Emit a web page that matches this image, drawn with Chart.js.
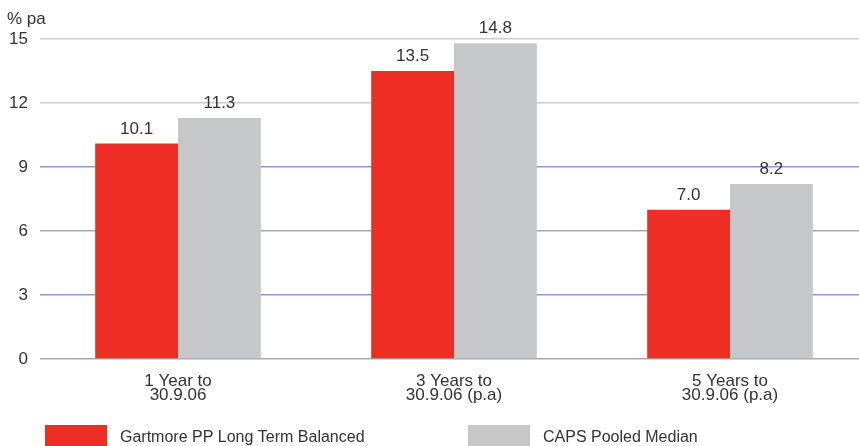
<!DOCTYPE html>
<html>
<head>
<meta charset="utf-8">
<script src="https://cdn.jsdelivr.net/npm/chart.js@4"></script>
<style>
  html, body { margin: 0; padding: 0; background: #fff; overflow: hidden; }
  #wrap { position: relative; width: 859px; height: 446px; overflow: hidden; }
  #wrap canvas { position: absolute; left: 0; top: 0; }
</style>
</head>
<body>
<div id="wrap"><canvas id="c" width="868" height="446"></canvas></div>
<script>
const categories = [["1 Year to", "30.9.06"], ["3 Years to", "30.9.06 (p.a)"], ["5 Years to", "30.9.06 (p.a)"]];
const seriesNames = ["Gartmore PP Long Term Balanced", "CAPS Pooled Median"];
const gartmoreValues = [10.1, 13.5, 7.0];
const capsValues = [11.3, 14.8, 8.2];
const yTicks = [0, 3, 6, 9, 12, 15];

const FONT = "'Liberation Sans', Arial, sans-serif";
const TEXT = '#333333';
const RED = '#EE2E24';
const GREY = '#C6C7C9';

const gridColour = v => {
  if (v === 9 || v === 3) return '#8A99C8';
  if (v === 6 || v === 0) return '#A9A9A9';
  return '#CBCBCB';
};

// Value labels over each bar, the "% pa" unit and the legend row
const annotate = {
  id: 'annotate',
  afterDatasetsDraw(chart) {
    const ctx = chart.ctx;
    ctx.save();
    ctx.fillStyle = TEXT;
    ctx.font = '17px ' + FONT;
    ctx.textAlign = 'center';
    ctx.textBaseline = 'bottom';
    chart.data.datasets.forEach((ds, i) => {
      chart.getDatasetMeta(i).data.forEach((bar, j) => {
        ctx.fillText(ds.data[j].toFixed(1), bar.x, bar.y - 6);
      });
    });

    ctx.textAlign = 'left';
    ctx.textBaseline = 'alphabetic';
    ctx.font = '17px ' + FONT;
    ctx.fillText('% pa', 7, 24);

    const items = [
      { x: 45, colour: RED, label: seriesNames[0] },
      { x: 468, colour: GREY, label: seriesNames[1] }
    ];
    ctx.font = '16px ' + FONT;
    items.forEach(it => {
      ctx.fillStyle = it.colour;
      ctx.fillRect(it.x, 425, 62, 21);
      ctx.fillStyle = TEXT;
      ctx.fillText(it.label, it.x + 75, 442);
    });
    ctx.restore();
  }
};

new Chart(document.getElementById('c'), {
  type: 'bar',
  data: {
    labels: categories,
    datasets: [
      { label: seriesNames[0], data: gartmoreValues, backgroundColor: RED },
      { label: seriesNames[1], data: capsValues, backgroundColor: GREY }
    ]
  },
  options: {
    responsive: false,
    animation: false,
    devicePixelRatio: 1,
    layout: { padding: { top: 39, right: 0, bottom: 0, left: 0 } },
    datasets: { bar: { categoryPercentage: 0.6, barPercentage: 1.0 } },
    plugins: { legend: { display: false }, tooltip: { enabled: false } },
    scales: {
      x: {
        grid: { display: false, drawTicks: false },
        border: { display: false },
        ticks: { color: TEXT, font: { family: FONT, size: 17, lineHeight: 0.85 }, padding: 15, maxRotation: 0 },
        afterFit(scale) { scale.height = 87; }
      },
      y: {
        min: 0,
        max: 15,
        afterBuildTicks(scale) { scale.ticks = yTicks.map(v => ({ value: v })); },
        grid: {
          drawTicks: false,
          lineWidth: 1.5,
          color: c => gridColour(c.tick ? c.tick.value : -1)
        },
        border: { display: false },
        ticks: { color: TEXT, font: { family: FONT, size: 17 }, padding: 12 },
        afterFit(scale) { scale.width = 40; }
      }
    }
  },
  plugins: [annotate]
});
</script>
</body>
</html>
